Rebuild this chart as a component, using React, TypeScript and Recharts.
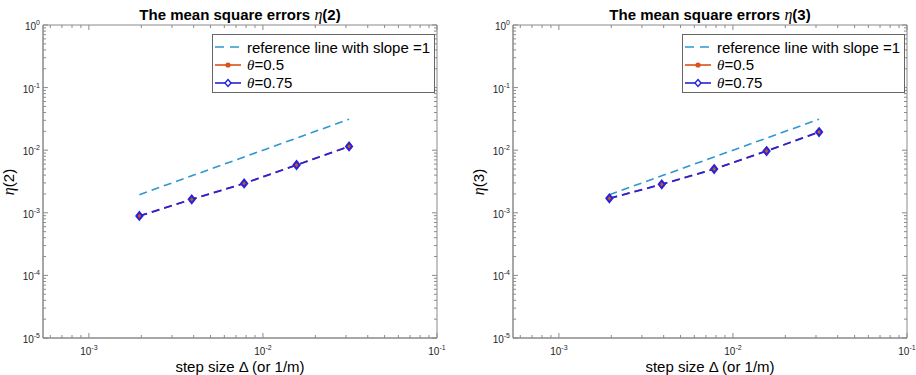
import React from 'react';
import { LineChart, Line, XAxis, YAxis, Legend, ReferenceArea, Label } from 'recharts';

// ─── data ────────────────────────────────────────────────────────────────────
const stepSizes = [0.00195, 0.0039, 0.0078, 0.0156, 0.03125];
const referenceLine = [0.00195, 0.0039, 0.0078, 0.0156, 0.03125];

const eta2Theta05 = [0.00089, 0.00164, 0.00295, 0.0058, 0.0115];
const eta2Theta075 = [0.00089, 0.00164, 0.00295, 0.0058, 0.0115];

const eta3Theta05 = [0.0017, 0.00285, 0.005, 0.0097, 0.0195];
const eta3Theta075 = [0.0017, 0.00285, 0.005, 0.0097, 0.0195];

const xMajorTicks = [0.001, 0.01, 0.1];
const xMinorTicks = [
  0.0006, 0.0007, 0.0008, 0.0009,
  0.002, 0.003, 0.004, 0.005, 0.006, 0.007, 0.008, 0.009,
  0.02, 0.03, 0.04, 0.05, 0.06, 0.07, 0.08, 0.09,
];
const yMajorTicks = [0.00001, 0.0001, 0.001, 0.01, 0.1, 1];
const yMinorMultipliers = [2, 3, 4, 5, 6, 7, 8, 9];

const X_DOMAIN: [number, number] = [0.000545, 0.1];
const Y_DOMAIN: [number, number] = [0.00001, 1];

// ─── styling ─────────────────────────────────────────────────────────────────
const FONT = '"Liberation Sans", Arial, Helvetica, sans-serif';
const SERIF = '"Liberation Serif", "Times New Roman", serif';
const AXIS_COLOR = '#8a8a8a';
const LABEL_COLOR = '#262626';
const REF_COLOR = '#2d98d0';
const ORANGE = '#d95319';
const BLUE = '#2424dc';

const PANEL_W = 458;
const PANEL_H = 375;
const PLOT_TOP = 25;
const PLOT_BOTTOM = 338;

const yMinorTicks = yMajorTicks.slice(0, -1).flatMap((d) => yMinorMultipliers.map((m) => d * m));

const exponentOf = (v: number) => Math.round(Math.log10(v));
const isMajor = (v: number, majors: number[]) => majors.some((m) => Math.abs(m - v) / m < 1e-6);

const PowerLabel = ({ x, y, value, anchor }: { x: number; y: number; value: number; anchor: 'middle' | 'end' }) => (
  <text x={x} y={y} textAnchor={anchor} fontFamily={FONT} fontSize={10} fill={LABEL_COLOR}>
    <tspan>10</tspan>
    <tspan dy={-5} fontSize={7}>{exponentOf(value)}</tspan>
  </text>
);

const makeXTick = () => (props: any) => {
  const { x, payload } = props;
  const v = payload.value as number;
  const major = isMajor(v, xMajorTicks);
  const len = major ? 5 : 3;
  return (
    <g>
      <line x1={x} x2={x} y1={PLOT_BOTTOM} y2={PLOT_BOTTOM - len} stroke={AXIS_COLOR} />
      <line x1={x} x2={x} y1={PLOT_TOP} y2={PLOT_TOP + len} stroke={AXIS_COLOR} />
      {major && <PowerLabel x={x} y={PLOT_BOTTOM + 17} value={v} anchor="middle" />}
    </g>
  );
};

const makeYTick = (left: number, right: number) => (props: any) => {
  const { y, payload } = props;
  const v = payload.value as number;
  const major = isMajor(v, yMajorTicks);
  const len = major ? 5 : 3;
  return (
    <g>
      <line x1={left} x2={left + len} y1={y} y2={y} stroke={AXIS_COLOR} />
      <line x1={right} x2={right - len} y1={y} y2={y} stroke={AXIS_COLOR} />
      {major && <PowerLabel x={left - 3} y={y + 5} value={v} anchor="end" />}
    </g>
  );
};

const CircleDot = (props: any) => {
  const { cx, cy, index } = props;
  return <circle key={`c-${index}`} cx={cx} cy={cy} r={2.6} fill={ORANGE} stroke={ORANGE} />;
};

const DiamondDot = (props: any) => {
  const { cx, cy, index } = props;
  const r = 3.8;
  return (
    <path
      key={`d-${index}`}
      d={`M${cx},${cy - r}L${cx + r * 0.8},${cy}L${cx},${cy + r}L${cx - r * 0.8},${cy}Z`}
      fill="none"
      stroke={BLUE}
      strokeWidth={2}
    />
  );
};

const LegendBox = () => {
  const row = (sample: React.ReactNode, text: React.ReactNode) => (
    <div style={{ display: 'flex', alignItems: 'center', height: 18 }}>
      <svg width={26} height={12} style={{ marginLeft: 2, marginRight: 6 }}>{sample}</svg>
      <span>{text}</span>
    </div>
  );
  return (
    <div
      style={{
        border: '1px solid #666',
        background: '#fff',
        fontFamily: FONT,
        fontSize: 15,
        color: '#000',
        padding: '3px 0',
        boxSizing: 'border-box',
        height: 59,
      }}
    >
      {row(<line x1={0} x2={26} y1={6} y2={6} stroke={REF_COLOR} strokeWidth={1.6} strokeDasharray="9 6" />, 'reference line with slope =1')}
      {row(
        <g>
          <line x1={0} x2={26} y1={6} y2={6} stroke={ORANGE} strokeWidth={1.6} />
          <circle cx={13} cy={6} r={2.6} fill={ORANGE} />
        </g>,
        <>
          <i style={{ fontFamily: SERIF }}>θ</i>=0.5
        </>,
      )}
      {row(
        <g>
          <line x1={0} x2={26} y1={6} y2={6} stroke={BLUE} strokeWidth={1.6} />
          <path d="M13,2.5L16,6L13,9.5L10,6Z" fill="#fff" stroke={BLUE} strokeWidth={1.4} />
        </g>,
        <>
          <i style={{ fontFamily: SERIF }}>θ</i>=0.75
        </>,
      )}
    </div>
  );
};

type PanelProps = {
  order: string;
  theta05: number[];
  theta075: number[];
  plotLeft: number;
  plotRight: number;
};

const ErrorPanel = ({ order, theta05, theta075, plotLeft, plotRight }: PanelProps) => {
  const rows = stepSizes.map((x, i) => ({
    x,
    ref: referenceLine[i],
    t05: theta05[i],
    t075: theta075[i],
  }));
  const mid = (plotLeft + plotRight) / 2;
  const yLabelX = plotLeft - 29;
  const yLabelY = 182;

  return (
    <div style={{ position: 'relative', width: PANEL_W, height: PANEL_H }}>
      <div
        style={{
          position: 'absolute',
          left: mid - 150,
          width: 300,
          top: 6,
          textAlign: 'center',
          fontFamily: FONT,
          fontWeight: 'bold',
          fontSize: 15,
          color: '#000',
        }}
      >
        The mean square errors <i style={{ fontFamily: SERIF, fontWeight: 'normal', fontSize: 16 }}>η</i>({order})
      </div>
      <LineChart
        width={PANEL_W}
        height={PANEL_H}
        data={rows}
        margin={{ top: PLOT_TOP, right: PANEL_W - plotRight, left: 0, bottom: 0 }}
        style={{ position: 'absolute', left: 0, top: 0 }}
      >
        <XAxis
          dataKey="x"
          type="number"
          scale="log"
          domain={X_DOMAIN}
          allowDataOverflow
          ticks={[...xMajorTicks, ...xMinorTicks]}
          interval={0}
          tick={makeXTick()}
          tickLine={false}
          axisLine={{ stroke: AXIS_COLOR }}
          height={PANEL_H - PLOT_BOTTOM}
        >
          <Label
            content={() => (
              <text x={mid} y={PANEL_H - 3} textAnchor="middle" fontFamily={FONT} fontSize={15} fill="#000">
                step size Δ (or 1/m)
              </text>
            )}
          />
        </XAxis>
        <YAxis
          type="number"
          scale="log"
          domain={Y_DOMAIN}
          allowDataOverflow
          ticks={[...yMajorTicks, ...yMinorTicks]}
          interval={0}
          tick={makeYTick(plotLeft, plotRight)}
          tickLine={false}
          axisLine={{ stroke: AXIS_COLOR }}
          width={plotLeft}
        >
          <Label
            content={() => (
              <text
                x={yLabelX}
                y={yLabelY}
                transform={`rotate(-90, ${yLabelX}, ${yLabelY})`}
                textAnchor="middle"
                fontFamily={FONT}
                fontSize={15}
                fill="#000"
              >
                <tspan fontStyle="italic" fontFamily={SERIF} fontSize={16}>η</tspan>
                <tspan>({order})</tspan>
              </text>
            )}
          />
        </YAxis>
        <ReferenceArea
          x1={X_DOMAIN[0]}
          x2={X_DOMAIN[1]}
          y1={Y_DOMAIN[0]}
          y2={Y_DOMAIN[1]}
          fill="none"
          stroke={AXIS_COLOR}
          ifOverflow="visible"
        />
        <Line
          dataKey="ref"
          stroke={REF_COLOR}
          strokeWidth={1.6}
          strokeDasharray="8 5"
          dot={false}
          isAnimationActive={false}
        />
        <Line
          dataKey="t05"
          stroke={ORANGE}
          strokeWidth={1.6}
          strokeDasharray="8 5"
          dot={CircleDot}
          isAnimationActive={false}
        />
        <Line
          dataKey="t075"
          stroke={BLUE}
          strokeWidth={1.8}
          strokeDasharray="8 5"
          dot={DiamondDot}
          isAnimationActive={false}
        />
        <Legend
          layout="horizontal"
          verticalAlign="middle"
          content={() => <LegendBox />}
          wrapperStyle={{ left: plotRight - 225, top: 34, width: 223, height: 59 }}
        />
      </LineChart>
    </div>
  );
};

export default function App() {
  return (
    <div style={{ position: 'absolute', left: 0, top: 0, width: 916, height: 375, background: '#fff', display: 'flex' }}>
      <ErrorPanel order="2" theta05={eta2Theta05} theta075={eta2Theta075} plotLeft={43} plotRight={437} />
      <ErrorPanel order="3" theta05={eta3Theta05} theta075={eta3Theta075} plotLeft={55} plotRight={449} />
    </div>
  );
}
